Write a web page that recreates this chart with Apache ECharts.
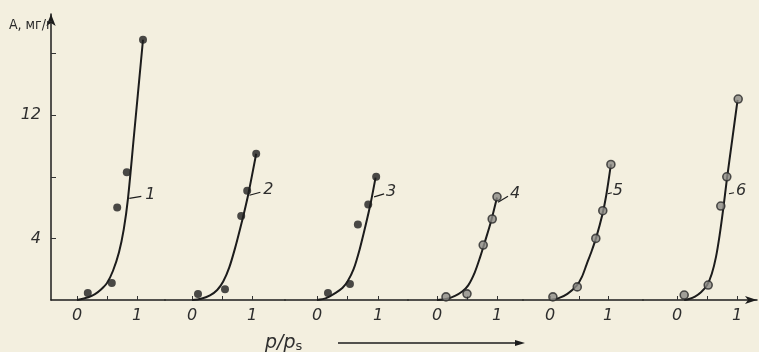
<!DOCTYPE html>
<html><head><meta charset="utf-8">
<script src="https://cdn.jsdelivr.net/npm/echarts@6/dist/echarts.min.js"></script>
<style>html,body{margin:0;padding:0;background:#f3efdf}#c{width:759px;height:352px}</style>
</head><body><div id="c"></div>
<script>
// ---- data (p/ps, A mg/g) ----
const curveLabels = ['1','2','3','4','5','6'];
const curve1 = [[0,0],[0.19,0.18],[0.3,0.38],[0.4,0.68],[0.5,1.1],[0.6,1.9],[0.7,3.1],[0.78,4.6],[0.85,6.6],[0.95,10.7],[1.1,16.9]];
const points1 = [[0.18,0.45],[0.58,1.1],[0.67,6.0],[0.83,8.3],[1.1,16.9]];
const curve2 = [[0,0],[0.15,0.08],[0.3,0.3],[0.42,0.65],[0.52,1.2],[0.62,2.1],[0.72,3.4],[0.8,4.6],[0.87,5.7],[0.94,6.9],[1.07,9.5]];
const points2 = [[0.1,0.39],[0.55,0.7],[0.82,5.45],[0.92,7.1],[1.07,9.5]];
const curve3 = [[0,0],[0.15,0.12],[0.3,0.45],[0.42,0.8],[0.5,1.2],[0.6,2.0],[0.7,3.3],[0.8,4.9],[0.88,6.3],[0.96,7.95]];
const points3 = [[0.18,0.45],[0.54,1.04],[0.67,4.9],[0.84,6.2],[0.97,8.0]];
const curve4 = [[0,0],[0.15,0.06],[0.3,0.27],[0.42,0.55],[0.52,0.95],[0.63,1.8],[0.72,2.8],[0.8,3.8],[0.9,5.1],[1.0,6.65]];
const points4 = [[0.15,0.2],[0.5,0.4],[0.77,3.57],[0.92,5.26],[1.0,6.7]];
const curve5 = [[0,0],[0.15,0.12],[0.3,0.4],[0.46,0.93],[0.55,1.5],[0.63,2.3],[0.72,3.2],[0.8,4.1],[0.9,5.5],[0.97,6.8],[1.05,8.8]];
const points5 = [[0.05,0.2],[0.47,0.85],[0.79,4.0],[0.91,5.8],[1.05,8.8]];
const curve6 = [[0.12,0],[0.2,0.06],[0.3,0.22],[0.4,0.5],[0.5,0.95],[0.58,1.7],[0.65,2.8],[0.71,4.2],[0.77,5.9],[0.83,7.8],[0.92,10.4],[1.01,13.0]];
const points6 = [[0.12,0.32],[0.52,0.97],[0.73,6.1],[0.83,8.0],[1.02,13.05]];
const labelAnchors = [[0.855,6.6],[0.94,6.8],[0.92,6.7],[1.0,6.35],[0.98,6.9],[0.85,6.9]];
const xTicks = [0,0.5,1];
const xTickLabels = [0,1];
const yTicks = [4,8,12,16];
const yTickLabels = [4,12];
const yName = 'A, мг/г';

// ---- layout ----
const curves = [curve1,curve2,curve3,curve4,curve5,curve6];
const points = [points1,points2,points3,points4,points5,points6];
const origins = [77,192,317,437,550,677];
const units = [60,60,61,60,58,60];
const bounds = [51,165,285,408,523,643,757];
const TOP = 14, BASE = 300, PXU = 15.4;
const YMAX = (BASE-TOP)/PXU;
const INK = '#1c1c1c';
const labelFont = {fontFamily:'DejaVu Sans', fontStyle:'italic', fontSize:16, color:'#2e2e2e'};

const chart = echarts.init(document.getElementById('c'), null, {renderer:'canvas'});
const grids = [], xAxes = [], yAxes = [], series = [];
origins.forEach((o,k)=>{
  grids.push({left:bounds[k], width:bounds[k+1]-bounds[k], top:TOP, height:BASE-TOP});
  xAxes.push({type:'value', gridIndex:k,
    min:(bounds[k]-o)/units[k], max:(bounds[k+1]-o)/units[k],
    axisLine:{show:true, onZero:false, lineStyle:{color:INK,width:1.5},
      symbol: k===5?['none','arrow']:'none', symbolSize:[6,12]},
    axisTick:{show:true, inside:true, length:4, customValues:xTicks, lineStyle:{color:'#333',width:1}},
    axisLabel:{show:true, customValues:xTickLabels, margin:8, ...labelFont, formatter:v=>String(v)},
    splitLine:{show:false}});
  yAxes.push({type:'value', gridIndex:k, min:0, max:YMAX, show:k===0,
    axisLine:{show:true, onZero:false, lineStyle:{color:INK,width:1.5}, symbol:['none','arrow'], symbolSize:[7,12]},
    axisTick:{show:true, inside:true, length:5, customValues:yTicks, lineStyle:{color:'#333'}},
    axisLabel:{show:true, customValues:yTickLabels, margin:10, ...labelFont, formatter:v=>String(v)},
    splitLine:{show:false}});
  series.push({type:'line', xAxisIndex:k, yAxisIndex:k, data:curves[k], smooth:0.3,
    symbol:'none', lineStyle:{color:INK,width:2}, silent:true, z:2});
  series.push({type:'scatter', xAxisIndex:k, yAxisIndex:k, data:points[k], symbolSize:8,
    itemStyle: k<3 ? {color:'#1e1e1e'} : {color:'#8c8b86', borderColor:'#2a2a2a', borderWidth:1.6}, z:3});
});

chart.setOption({
  animation:false,
  backgroundColor:'#f3efdf',
  grid:grids, xAxis:xAxes, yAxis:yAxes, series:series,
  title:{text:yName, left:4, top:13, textStyle:{fontFamily:'DejaVu Sans Condensed', fontSize:14, fontWeight:'normal', color:'#2a2a2a'}}
});

// curve labels with leader lines
const leads = [[13,-2,22],[12,-3,20],[11,-3,18],[11,-6,18],[5,-1,11],[6,-1,13]];
const g = [];
labelAnchors.forEach((a,k)=>{
  const [px,py] = chart.convertToPixel({gridIndex:k}, a);
  const l = leads[k];
  g.push({type:'line', shape:{x1:px+1,y1:py,x2:px+l[0],y2:py+l[1]}, style:{stroke:INK,lineWidth:1.2}});
  g.push({type:'text', x:px+l[2], y:py+l[1]-2, style:{text:curveLabels[k], font:'italic 16px "DejaVu Sans"', fill:'#2e2e2e', align:'center', verticalAlign:'middle'}});
});
// x-axis name with arrow
g.push({type:'text', x:265, y:343, style:{rich:{a:{font:'italic 19px "DejaVu Sans"', fill:'#2e2e2e'}, b:{font:'13px "DejaVu Sans"', fill:'#2e2e2e', padding:[8,0,0,0]}}, text:'{a|p/p}{b|s}', verticalAlign:'middle'}});
g.push({type:'line', shape:{x1:338,y1:343,x2:518,y2:343}, style:{stroke:INK,lineWidth:1.5}});
g.push({type:'polygon', shape:{points:[[525,343],[515,340],[515,346]]}, style:{fill:INK}});
chart.setOption({graphic:g});
</script></body></html>
